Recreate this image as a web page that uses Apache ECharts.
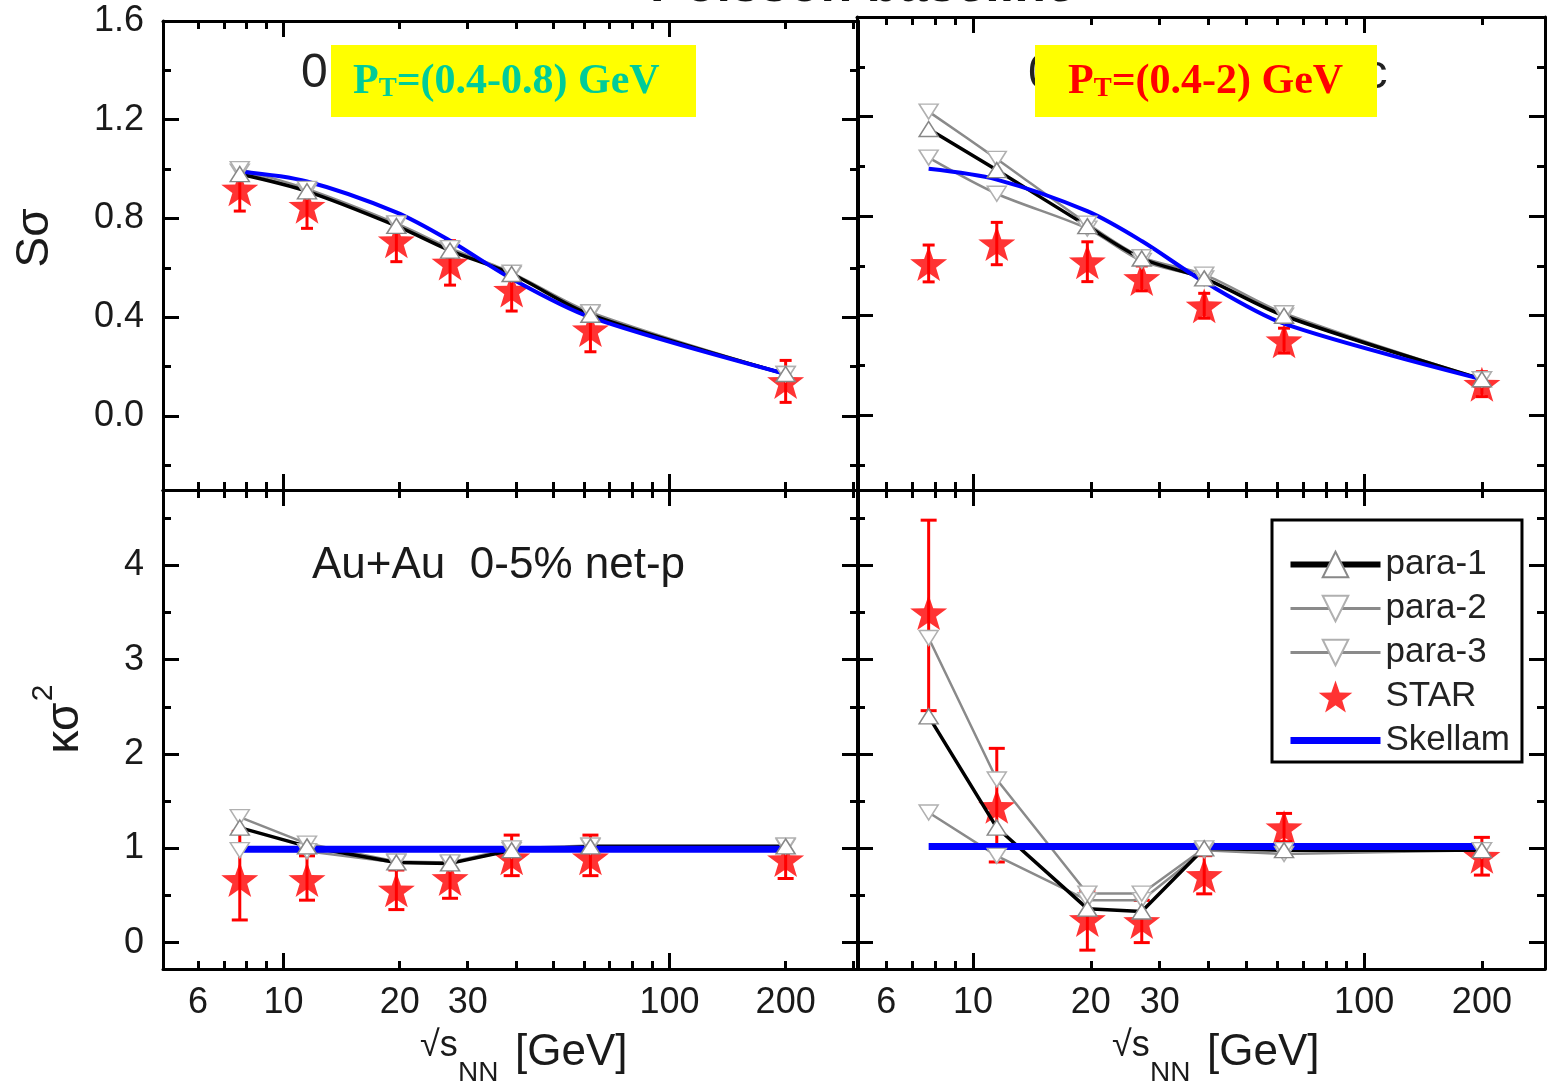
<!DOCTYPE html>
<html>
<head>
<meta charset="utf-8">
<script src="https://cdn.jsdelivr.net/npm/echarts@6/dist/echarts.min.js"></script>
<style>
  html, body { margin: 0; padding: 0; background: #fff; }
  #chart { width: 1547px; height: 1082px; }
</style>
</head>
<body>
<div id="chart"></div>
<script>
// Collision energies (GeV)
const energies = [7.7, 11.5, 19.6, 27, 39, 62.4, 200];

// Tick values
const xTickLabels = [6, 10, 20, 30, 100, 200];
const xMajorTicks = [10, 100];
const xMinorTicks = [6, 7, 8, 9, 20, 30, 40, 50, 60, 70, 80, 90, 200, 300];
const sTickLabels = [0, 0.4, 0.8, 1.2, 1.6];
const sMinorTicks = [-0.2, 0.2, 0.6, 1.0, 1.4];
const kTickLabels = [0, 1, 2, 3, 4];
const kMinorTicks = [0.5, 1.5, 2.5, 3.5, 4.5];

// S*sigma, 0.4 < pT < 0.8 GeV
const sSigma08Star = [0.92, 0.85, 0.71, 0.62, 0.51, 0.35, 0.14];
const sSigma08ErrLow = [0.09, 0.09, 0.085, 0.09, 0.085, 0.09, 0.085];
const sSigma08ErrHigh = [0.09, 0.09, 0.085, 0.09, 0.085, 0.09, 0.085];
const sSigma08Para1 = [0.98, 0.91, 0.77, 0.67, 0.575, 0.41, 0.17];
const sSigma08Para2 = [1.0, 0.92, 0.78, 0.68, 0.58, 0.42, 0.17];
const sSigma08Para3 = [0.99, 0.91, 0.775, 0.675, 0.575, 0.415, 0.17];
const sSigma08Skellam = [0.99, 0.95, 0.825, 0.71, 0.556, 0.40, 0.17];

// S*sigma, 0.4 < pT < 2 GeV
const sSigma2Star = [0.61, 0.69, 0.617, 0.55, 0.44, 0.30, 0.125];
const sSigma2ErrLow = [0.074, 0.085, 0.08, 0.05, 0.05, 0.05, 0.05];
const sSigma2ErrHigh = [0.074, 0.085, 0.08, 0.05, 0.05, 0.05, 0.05];
const sSigma2Para1 = [1.15, 0.985, 0.76, 0.63, 0.55, 0.40, 0.145];
const sSigma2Para2 = [1.22, 1.03, 0.77, 0.635, 0.565, 0.41, 0.145];
const sSigma2Para3 = [1.035, 0.89, 0.75, 0.62, 0.55, 0.40, 0.145];
const sSigma2Skellam = [0.99, 0.947, 0.82, 0.70, 0.536, 0.368, 0.145];

// kappa*sigma^2, 0.4 < pT < 0.8 GeV
const kSigma08Star = [0.67, 0.67, 0.56, 0.68, 0.90, 0.90, 0.88];
const kSigma08ErrLow = [0.43, 0.22, 0.21, 0.21, 0.19, 0.19, 0.2];
const kSigma08ErrHigh = [0.51, 0.25, 0.21, 0.21, 0.24, 0.24, 0.2];
const kSigma08Para1 = [1.22, 1.02, 0.85, 0.84, 0.98, 1.02, 1.02];
const kSigma08Para2 = [1.33, 1.05, 0.86, 0.85, 1.0, 1.03, 1.03];
const kSigma08Para3 = [0.98, 0.97, 0.85, 0.84, 0.98, 1.02, 1.02];
const kSigma08Skellam = [0.99, 0.99, 0.99, 0.99, 0.99, 0.99, 0.99];

// kappa*sigma^2, 0.4 < pT < 2 GeV
const kSigma2Star = [3.5, 1.445, 0.245, 0.224, 0.712, 1.22, 0.916];
const kSigma2ErrLow = [1.04, 0.59, 0.325, 0.224, 0.195, 0.15, 0.2];
const kSigma2ErrHigh = [0.98, 0.615, 0.31, 0.224, 0.21, 0.15, 0.2];
const kSigma2Para1 = [2.40, 1.22, 0.36, 0.33, 1.0, 0.98, 0.98];
const kSigma2Para2 = [3.23, 1.73, 0.52, 0.52, 1.0, 0.98, 0.98];
const kSigma2Para3 = [1.38, 0.92, 0.45, 0.45, 0.98, 0.94, 0.98];
const kSigma2Skellam = [1.02, 1.02, 1.02, 1.02, 1.02, 1.02, 1.02];

const FONT = "'Liberation Sans', Arial, sans-serif";
const SERIF = "'Liberation Serif', 'Times New Roman', serif";
const STAR_PATH = 'path://M50,0L61.76,33.82L97.55,34.55L69.02,56.18L79.39,90.45L50,70L20.61,90.45L30.98,56.18L2.45,34.55L38.24,33.82Z';

const panelData = [
  { star: sSigma08Star, lo: sSigma08ErrLow, hi: sSigma08ErrHigh, p1: sSigma08Para1, p2: sSigma08Para2, p3: sSigma08Para3, sk: sSigma08Skellam },
  { star: sSigma2Star, lo: sSigma2ErrLow, hi: sSigma2ErrHigh, p1: sSigma2Para1, p2: sSigma2Para2, p3: sSigma2Para3, sk: sSigma2Skellam },
  { star: kSigma08Star, lo: kSigma08ErrLow, hi: kSigma08ErrHigh, p1: kSigma08Para1, p2: kSigma08Para2, p3: kSigma08Para3, sk: kSigma08Skellam },
  { star: kSigma2Star, lo: kSigma2ErrLow, hi: kSigma2ErrHigh, p1: kSigma2Para1, p2: kSigma2Para2, p3: kSigma2Para3, sk: kSigma2Skellam }
];

// Panel geometry and axis ranges
const panelLayout = [
  { left: 163, top: 21, width: 695, height: 469, x: [4.87, 308], y: [-0.3, 1.6], xLabels: false, yLabels: true, kind: 'S' },
  { left: 857, top: 17, width: 688, height: 473, x: [5.05, 290], y: [-0.3, 1.6], xLabels: false, yLabels: false, kind: 'S' },
  { left: 163, top: 490, width: 695, height: 479, x: [4.87, 308], y: [-0.28, 4.8], xLabels: true, yLabels: true, kind: 'K' },
  { left: 857, top: 490, width: 688, height: 479, x: [5.05, 290], y: [-0.28, 4.8], xLabels: true, yLabels: false, kind: 'K' }
];

const tickLine = { color: '#000', width: 3 };
const frameLine = { show: true, onZero: false, lineStyle: { color: '#000', width: 3 } };
const hiddenLine = { show: false, onZero: false };

function makeXAxes(gi, p) {
  const common = { type: 'log', logBase: 10, gridIndex: gi, min: p.x[0], max: p.x[1], splitLine: { show: false } };
  const major = (pos, labels) => Object.assign({}, common, {
    position: pos,
    axisLine: frameLine,
    axisTick: { show: true, inside: true, length: 16, customValues: xMajorTicks, lineStyle: tickLine },
    axisLabel: labels ? { show: true, customValues: xTickLabels, formatter: v => String(Math.round(v)), margin: 16, fontSize: 36, color: '#1a1a1a', fontFamily: FONT } : { show: false }
  });
  const minor = pos => Object.assign({}, common, {
    position: pos,
    axisLine: hiddenLine,
    axisTick: { show: true, inside: true, length: 8, customValues: xMinorTicks, lineStyle: tickLine },
    axisLabel: { show: false }
  });
  return [major('bottom', p.xLabels), minor('bottom'), major('top', false), minor('top')];
}

function makeYAxes(gi, p) {
  const isS = p.kind === 'S';
  const labels = isS ? sTickLabels : kTickLabels;
  const minors = isS ? sMinorTicks : kMinorTicks;
  const common = { type: 'value', gridIndex: gi, min: p.y[0], max: p.y[1], splitLine: { show: false } };
  const major = (pos, show) => Object.assign({}, common, {
    position: pos,
    axisLine: frameLine,
    axisTick: { show: true, inside: true, length: 16, customValues: labels, lineStyle: tickLine },
    axisLabel: show ? { show: true, customValues: labels, formatter: isS ? (v => Number(v).toFixed(1)) : (v => String(Math.round(v))), margin: 19, fontSize: 36, color: '#1a1a1a', fontFamily: FONT } : { show: false }
  });
  const minor = pos => Object.assign({}, common, {
    position: pos,
    axisLine: hiddenLine,
    axisTick: { show: true, inside: true, length: 8, customValues: minors, lineStyle: tickLine },
    axisLabel: { show: false }
  });
  return [major('left', p.yLabels), minor('left'), major('right', false), minor('right')];
}

function pts(arr) { return energies.map((e, i) => [e, arr[i]]); }

function makeSeries(gi, d, p) {
  const ax = { xAxisIndex: gi * 4, yAxisIndex: gi * 4 };
  const isS = p.kind === 'S';
  const smooth = isS ? 0.3 : false;
  const blueWidth = isS ? 4 : 7;
  const capHalf = isS ? 6 : 8;
  return [
    Object.assign({ name: 'para-3', type: 'line', data: pts(d.p3), smooth: smooth, symbol: 'triangle', symbolRotate: 180, symbolSize: [19, 15],
      lineStyle: { color: '#8a8a8a', width: 2.5 }, itemStyle: { color: '#fff', borderColor: '#b0b0b0', borderWidth: 1.5 } }, ax),
    Object.assign({ name: 'para-2', type: 'line', data: pts(d.p2), smooth: smooth, symbol: 'triangle', symbolRotate: 180, symbolSize: [19, 15],
      lineStyle: { color: '#8a8a8a', width: 2.5 }, itemStyle: { color: '#fff', borderColor: '#b0b0b0', borderWidth: 1.5 } }, ax),
    Object.assign({ name: 'para-1', type: 'line', data: pts(d.p1), smooth: smooth, symbol: 'triangle', symbolSize: [19, 15],
      lineStyle: { color: '#000', width: 3.5 }, itemStyle: { color: '#fff', borderColor: '#888', borderWidth: 1.5 } }, ax),
    Object.assign({ name: 'Skellam', type: 'line', data: pts(d.sk), smooth: smooth, symbol: 'none',
      lineStyle: { color: '#0000ff', width: blueWidth }, itemStyle: { color: '#0000ff' } }, ax),
    Object.assign({ name: 'STAR error', type: 'custom', silent: true,
      data: energies.map((e, i) => [e, d.star[i] - d.lo[i], d.star[i] + d.hi[i]]),
      encode: { x: 0, y: [1, 2] },
      renderItem: (params, api) => {
        const a = api.coord([api.value(0), api.value(1)]);
        const b = api.coord([api.value(0), api.value(2)]);
        const st = { stroke: '#ff0000', lineWidth: 3 };
        return { type: 'group', children: [
          { type: 'line', shape: { x1: a[0], y1: a[1], x2: b[0], y2: b[1] }, style: st },
          { type: 'line', shape: { x1: a[0] - capHalf, y1: a[1], x2: a[0] + capHalf, y2: a[1] }, style: st },
          { type: 'line', shape: { x1: b[0] - capHalf, y1: b[1], x2: b[0] + capHalf, y2: b[1] }, style: st }
        ] };
      } }, ax),
    Object.assign({ name: 'STAR', type: 'scatter', data: pts(d.star), symbol: STAR_PATH, symbolSize: [37, 35], symbolKeepAspect: false,
      itemStyle: { color: '#ff0000' } }, ax)
  ];
}

const grids = [], xAxes = [], yAxes = [], series = [];
panelLayout.forEach((p, gi) => {
  grids.push({ left: p.left, top: p.top, width: p.width, height: p.height, containLabel: false, outerBoundsMode: 'none' });
  xAxes.push(...makeXAxes(gi, p));
  yAxes.push(...makeYAxes(gi, p));
  series.push(...makeSeries(gi, panelData[gi], p));
});

const graphics = [
  // title line, cut at the top edge
  { type: 'text', x: 650, y: -13, style: { text: 'Poisson baseline', font: "bold 52px 'Liberation Sans', Arial, sans-serif", fill: '#111', verticalAlign: 'middle' } },
  // panel captions underneath the highlight boxes
  { type: 'text', x: 301, y: 74, style: { text: '0.4<pT<0.8 GeV/c', font: "48px 'Liberation Sans', Arial, sans-serif", fill: '#222', verticalAlign: 'middle' } },
  { type: 'text', x: 1028, y: 74, style: { text: '0.4<pT<2 GeV/c', font: "49px 'Liberation Sans', Arial, sans-serif", fill: '#222', verticalAlign: 'middle' } },
  // highlight boxes
  { type: 'rect', shape: { x: 331, y: 45, width: 365, height: 72 }, style: { fill: '#ffff00' } },
  { type: 'rect', shape: { x: 1035, y: 45, width: 342, height: 72 }, style: { fill: '#ffff00' } },
  { type: 'text', x: 353, y: 82, style: { text: '{p|P}{t|T}{p|=(0.4-0.8) GeV}', verticalAlign: 'middle',
      rich: { p: { fontSize: 42, fontWeight: 'bold', fontFamily: SERIF, fill: '#00cc99', lineHeight: 42 },
              t: { fontSize: 27, fontWeight: 'bold', fontFamily: SERIF, fill: '#00cc99', lineHeight: 36, verticalAlign: 'bottom' } } } },
  { type: 'text', x: 1068, y: 82, style: { text: '{p|P}{t|T}{p|=(0.4-2) GeV}', verticalAlign: 'middle',
      rich: { p: { fontSize: 42, fontWeight: 'bold', fontFamily: SERIF, fill: '#ff0000', lineHeight: 42 },
              t: { fontSize: 27, fontWeight: 'bold', fontFamily: SERIF, fill: '#ff0000', lineHeight: 36, verticalAlign: 'bottom' } } } },
  // collision system label
  { type: 'text', x: 312, y: 566, style: { text: 'Au+Au  0-5% net-p', font: "44px 'Liberation Sans', Arial, sans-serif", fill: '#1a1a1a', verticalAlign: 'middle' } },
  // y-axis titles
  { type: 'text', x: 35, y: 238, rotation: Math.PI / 2, style: { text: 'Sσ', font: "46px 'Liberation Sans', Arial, sans-serif", fill: '#1a1a1a', align: 'center', verticalAlign: 'middle' } },
  { type: 'text', x: 65, y: 728, rotation: Math.PI / 2, style: { text: 'κσ', font: "46px 'Liberation Sans', Arial, sans-serif", fill: '#1a1a1a', align: 'center', verticalAlign: 'middle' } },
  { type: 'text', x: 44, y: 693, rotation: Math.PI / 2, style: { text: '2', font: "30px 'Liberation Sans', Arial, sans-serif", fill: '#1a1a1a', align: 'center', verticalAlign: 'middle' } }
];

// x-axis titles for both columns
[0, 692].forEach(dx => {
  graphics.push(
    { type: 'text', x: 420 + dx, y: 1046, style: { text: '√s', font: "36px 'Liberation Sans', Arial, sans-serif", fill: '#1a1a1a', verticalAlign: 'middle' } },
    { type: 'text', x: 458 + dx, y: 1073, style: { text: 'NN', font: "28px 'Liberation Sans', Arial, sans-serif", fill: '#1a1a1a', verticalAlign: 'middle' } },
    { type: 'text', x: 515 + dx, y: 1053, style: { text: '[GeV]', font: "44px 'Liberation Sans', Arial, sans-serif", fill: '#1a1a1a', verticalAlign: 'middle' } }
  );
});

const chart = echarts.init(document.getElementById('chart'), null, { renderer: 'canvas' });
chart.setOption({
  animation: false,
  backgroundColor: '#fff',
  textStyle: { fontFamily: FONT },
  grid: grids,
  xAxis: xAxes,
  yAxis: yAxes,
  legend: {
    orient: 'vertical', left: 1272, top: 520, padding: [27, 12, 4, 15], itemGap: 9,
    itemWidth: 90, itemHeight: 32, borderColor: '#000', borderWidth: 3, backgroundColor: '#fff',
    selectedMode: false, symbolKeepAspect: true,
    textStyle: { fontSize: 35, color: '#222', fontFamily: FONT },
    data: [
      { name: 'para-1', lineStyle: { width: 6 } },
      { name: 'para-2', lineStyle: { width: 3 } },
      { name: 'para-3', lineStyle: { width: 3 } },
      { name: 'STAR' },
      { name: 'Skellam', itemStyle: { opacity: 0 }, lineStyle: { width: 7 } }
    ]
  },
  graphic: { elements: graphics },
  series: series
});
</script>
</body>
</html>
